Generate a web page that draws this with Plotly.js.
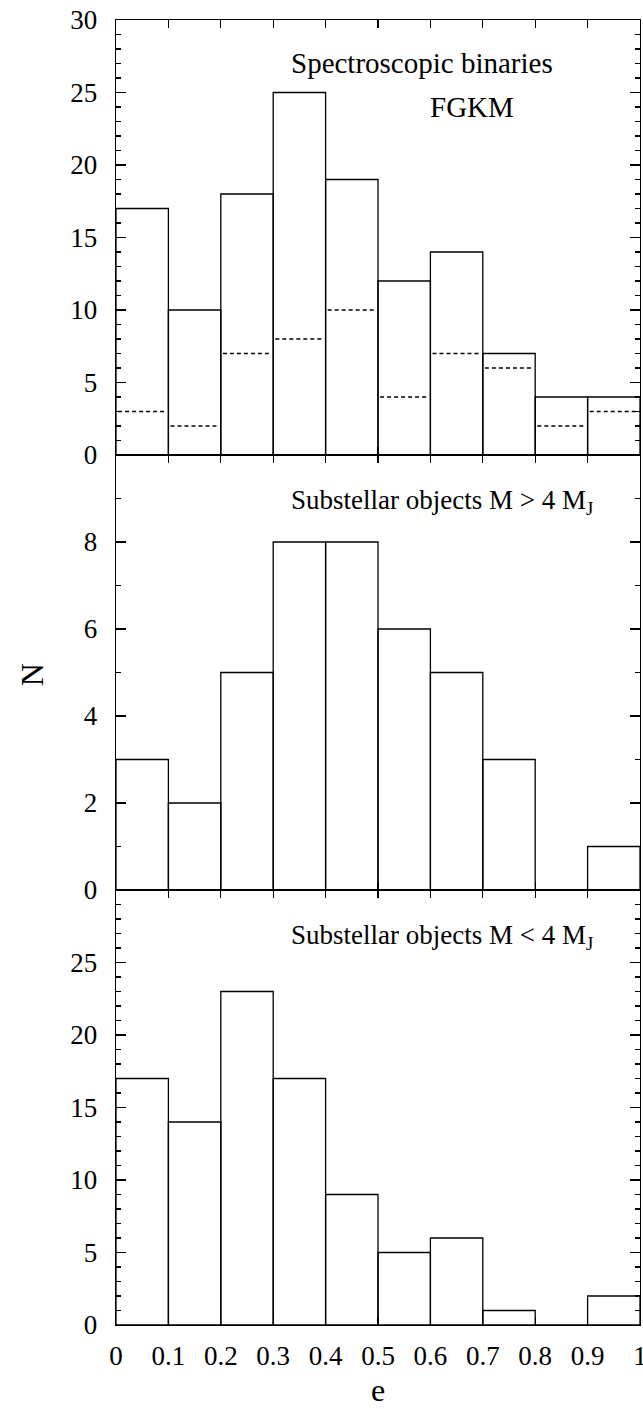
<!DOCTYPE html>
<html>
<head>
<meta charset="utf-8">
<script src="https://cdn.plot.ly/plotly-3.0.1.min.js"></script>
<style>html,body{margin:0;padding:0;background:#fff;}</style>
</head>
<body>
<div id="chart" style="width:643px;height:1409px;"></div>
<script>
// Bin edges / centres for eccentricity e
const binEdges = [0, 0.1, 0.2, 0.3, 0.4, 0.5, 0.6, 0.7, 0.8, 0.9, 1.0];
const binCenters = [0.05, 0.15, 0.25, 0.35, 0.45, 0.55, 0.65, 0.75, 0.85, 0.95];

// Panel 1: Spectroscopic binaries (solid) and FGKM subset (dashed)
const specBinaries = [17, 10, 18, 25, 19, 12, 14, 7, 4, 4];
const specFGKM     = [3, 2, 7, 8, 10, 4, 7, 6, 2, 3];
// Panel 2: Substellar objects M > 4 MJ
const substellarHigh = [3, 2, 5, 8, 8, 6, 5, 3, 0, 1];
// Panel 3: Substellar objects M < 4 MJ
const substellarLow  = [17, 14, 23, 17, 9, 5, 6, 1, 0, 2];

const xTickVals = [0, 0.1, 0.2, 0.3, 0.4, 0.5, 0.6, 0.7, 0.8, 0.9, 1];
const xTickText = ["0", "0.1", "0.2", "0.3", "0.4", "0.5", "0.6", "0.7", "0.8", "0.9", "1"];

const FONT = "Liberation Serif, Times New Roman, serif";

function barTrace(y, xa, ya) {
  return {
    type: 'bar', x: binCenters, y: y, width: 0.1,
    xaxis: xa, yaxis: ya,
    marker: {color: 'rgba(255,255,255,0)', line: {color: '#000', width: 1.3}},
    hoverinfo: 'skip', showlegend: false
  };
}

// dashed horizontal steps (one segment per bin, slightly inset)
const dx = [], dy = [];
for (let i = 0; i < specFGKM.length; i++) {
  dx.push(binEdges[i] + 0.004, binEdges[i + 1] - 0.006, null);
  dy.push(specFGKM[i], specFGKM[i], null);
}

const traces = [
  barTrace(specBinaries, 'x', 'y'),
  {type: 'scatter', mode: 'lines', x: dx, y: dy, xaxis: 'x', yaxis: 'y',
   line: {color: '#000', width: 1.5, dash: '4px,3px'}, hoverinfo: 'skip', showlegend: false, connectgaps: false},
  barTrace(substellarHigh, 'x2', 'y2'),
  barTrace(substellarLow, 'x3', 'y3')
];

function xAxis(anchor, showLabels) {
  return {
    anchor: anchor, domain: [0, 1], range: [0, 1],
    tickvals: xTickVals, ticktext: xTickText,
    showticklabels: showLabels,
    ticks: 'inside', ticklen: 8, tickwidth: 1.3, tickcolor: '#000',
    showline: true, linecolor: '#000', linewidth: 1.3, mirror: 'ticks',
    showgrid: false, zeroline: false,
    tickfont: {family: FONT, size: 27, color: '#000'},
    ticklabelstandoff: 6,
    ticklabeloverflow: 'allow',
    fixedrange: true
  };
}
function yAxis(anchor, domain, range, tickvals, minorDtick) {
  return {
    anchor: anchor, domain: domain, range: range,
    tickvals: tickvals,
    ticks: 'inside', ticklen: 10, tickwidth: 1.3, tickcolor: '#000',
    minor: {ticks: 'inside', ticklen: 5, tickwidth: 1.3, tickcolor: '#000', dtick: minorDtick, tick0: 0, showgrid: false},
    showline: true, linecolor: '#000', linewidth: 1.3, mirror: 'ticks',
    showgrid: false, zeroline: false,
    tickfont: {family: FONT, size: 27, color: '#000'},
    ticklabelstandoff: 12,
    fixedrange: true
  };
}

const layout = {
  width: 643, height: 1409,
  margin: {l: 115.5, r: 3, t: 20, b: 84},
  paper_bgcolor: '#fff', plot_bgcolor: 'rgba(0,0,0,0)',
  bargap: 0, barmode: 'overlay',
  showlegend: false,
  xaxis: xAxis('y', false),
  xaxis2: xAxis('y2', false),
  xaxis3: xAxis('y3', true),
  yaxis: yAxis('x', [2/3, 1], [0, 30], [0, 5, 10, 15, 20, 25, 30], 1),
  yaxis2: yAxis('x2', [1/3, 2/3], [0, 10], [0, 2, 4, 6, 8], 1),
  yaxis3: yAxis('x3', [0, 1/3], [0, 30], [0, 5, 10, 15, 20, 25], 1),
  annotations: [
    {text: 'Spectroscopic binaries', xref: 'paper', yref: 'paper', x: 0.33, y: 0.967,
     xanchor: 'left', yanchor: 'middle', showarrow: false, font: {family: FONT, size: 29, color: '#000'}},
    {text: 'FGKM', xref: 'paper', yref: 'paper', x: 0.68, y: 0.933,
     xanchor: 'center', yanchor: 'middle', showarrow: false, font: {family: FONT, size: 29, color: '#000'}},
    {text: 'Substellar objects M > 4 M<sub>J</sub>', xref: 'paper', yref: 'paper', x: 0.33, y: 0.631,
     xanchor: 'left', yanchor: 'middle', showarrow: false, font: {family: FONT, size: 27, color: '#000'}},
    {text: 'Substellar objects M < 4 M<sub>J</sub>', xref: 'paper', yref: 'paper', x: 0.33, y: 0.297,
     xanchor: 'left', yanchor: 'middle', showarrow: false, font: {family: FONT, size: 27, color: '#000'}},
    {text: 'N', xref: 'paper', yref: 'paper', x: -0.16, y: 0.498, textangle: -90,
     xanchor: 'center', yanchor: 'middle', showarrow: false, font: {family: FONT, size: 32, color: '#000'}},
    {text: 'e', xref: 'paper', yref: 'paper', x: 0.5, y: -0.05,
     xanchor: 'center', yanchor: 'middle', showarrow: false, font: {family: FONT, size: 32, color: '#000'}}
  ]
};

Plotly.newPlot('chart', traces, layout, {staticPlot: true, displayModeBar: false});
</script>
</body>
</html>
